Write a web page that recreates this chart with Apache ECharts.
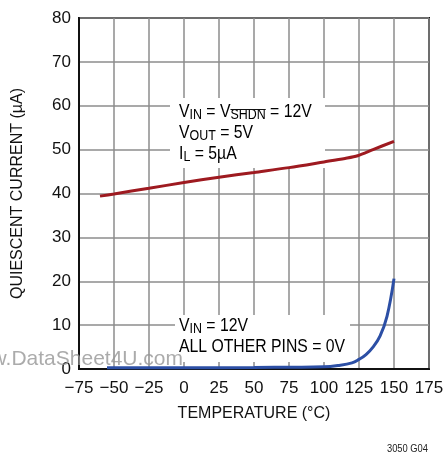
<!DOCTYPE html>
<html><head><meta charset="utf-8">
<script src="https://cdn.jsdelivr.net/npm/echarts@6/dist/echarts.min.js"></script>
<style>html,body{margin:0;padding:0;background:#fff}#c{width:444px;height:455px}</style>
</head><body><div id="c"></div>
<script>
var FONT = '"Liberation Sans",Arial,sans-serif';
var xTicks = [-75, -50, -25, 0, 25, 50, 75, 100, 125, 150, 175];
var yTicks = [0, 10, 20, 30, 40, 50, 60, 70, 80];
var tempRed = [-60, -50, -25, 0, 25, 50, 75, 100, 115, 124, 135, 150];
var currentRed = [39.4, 39.9, 41.2, 42.5, 43.7, 44.8, 45.9, 47.2, 48.0, 48.6, 50.0, 51.9];
var tempBlue = [-55, 0, 50, 100, 110, 120, 125, 130, 135, 140, 145, 150];
var currentBlue = [0.3, 0.3, 0.35, 0.5, 0.8, 1.4, 2.2, 3.3, 5.0, 7.5, 12.0, 20.6];

function pairs(xs, ys){ return xs.map(function(x,i){return [x, ys[i]];}); }
function fmt(v){ return v < 0 ? '\u2212' + (-v) : String(v); }

var cv = document.createElement('canvas').getContext('2d');
function tw(s, size){ cv.font = size + 'px ' + FONT; return cv.measureText(s).width; }

var chart = echarts.init(document.getElementById('c'), null, {renderer:'canvas'});
var gl = 79, gt = 18, gr = 15, gb = 86;
var SX = 0.83;
var SUB = 15;

var rich = {
  n: {fontSize: 19, lineHeight: 21, fontFamily: FONT, color: '#111'},
  s: {fontSize: SUB, lineHeight: 11, verticalAlign: 'bottom', fontFamily: FONT, color: '#111'}
};
var t1x = 179, t1y = 101;
var olX = t1x + SX * (tw('V',19) + tw('IN',SUB) + tw(' = V',19));
var olW = SX * tw('SHDN',SUB);

var option = {
  animation: false,
  backgroundColor: '#fff',
  grid: {left: gl, top: gt, right: gr, bottom: gb, outerBoundsMode: 'none', containLabel: false,
         show: true, borderColor: '#111', borderWidth: 2, backgroundColor: 'transparent'},
  xAxis: {
    type: 'value', min: xTicks[0], max: xTicks[xTicks.length-1], interval: 25,
    name: 'TEMPERATURE (\u00B0C)', nameLocation: 'middle', nameGap: 37,
    nameTextStyle: {fontSize: 16, fontFamily: FONT, color: '#111'},
    axisLine: {show: true, onZero: false, lineStyle: {color: '#111', width: 2}},
    axisTick: {show: false},
    axisLabel: {formatter: fmt, fontSize: 17, fontFamily: FONT, color: '#111', margin: 11, hideOverlap: false},
    splitLine: {show: true, lineStyle: {color: '#8c8c8c', width: 1.5}}
  },
  yAxis: {
    type: 'value', min: yTicks[0], max: yTicks[yTicks.length-1], interval: 10,
    name: 'QUIESCENT CURRENT (\u00B5A)', nameLocation: 'middle', nameGap: 53,
    nameTextStyle: {fontSize: 16, fontFamily: FONT, color: '#111'},
    axisLine: {show: true, onZero: false, lineStyle: {color: '#111', width: 2}},
    axisTick: {show: false},
    axisLabel: {formatter: fmt, fontSize: 17, fontFamily: FONT, color: '#111', margin: 8},
    splitLine: {show: true, lineStyle: {color: '#8c8c8c', width: 1.5}}
  },
  series: [
    {type: 'line', data: pairs(tempRed, currentRed), showSymbol: false, smooth: 0.3,
     lineStyle: {color: '#9e1a20', width: 3}, z: 5},
    {type: 'line', data: pairs(tempBlue, currentBlue), showSymbol: false, smooth: 0.4,
     lineStyle: {color: '#2c4fa5', width: 3}, z: 5}
  ],
  graphic: [
    {type: 'rect', z: 1, shape: {x: 170, y: 98, width: 155, height: 70}, style: {fill: '#fff'}},
    {type: 'rect', z: 1, shape: {x: 175, y: 315, width: 175, height: 47}, style: {fill: '#fff'}},
    {type: 'text', z: 6, x: t1x, y: t1y, scaleX: SX, style: {
      text: '{n|V}{s|IN}{n| = V}{s|SHDN}{n| = 12V}\n{n|V}{s|OUT}{n| = 5V}\n{n|I}{s|L}{n| = 5\u00B5A}',
      rich: rich}},
    {type: 'line', z: 6, shape: {x1: olX, y1: 109.5, x2: olX + olW, y2: 109.5}, style: {stroke: '#111', lineWidth: 1.2}},
    {type: 'text', z: 6, x: t1x, y: 315, scaleX: SX, style: {
      text: '{n|V}{s|IN}{n| = 12V}\n{n|ALL OTHER PINS = 0V}', rich: rich}},
    {type: 'text', z: 10, x: 183, y: 359, style: {
      text: 'www.DataSheet4U.com', font: '21px "Liberation Sans", Arial, sans-serif',
      fill: 'rgba(150,150,150,0.8)', align: 'right', verticalAlign: 'middle'}},
    {type: 'text', z: 10, x: 428, y: 449, scaleX: 0.85, style: {
      text: '3050 G04', font: '11px ' + FONT, fill: '#222', align: 'right', verticalAlign: 'middle'}}
  ]
};
chart.setOption(option);
</script></body></html>
